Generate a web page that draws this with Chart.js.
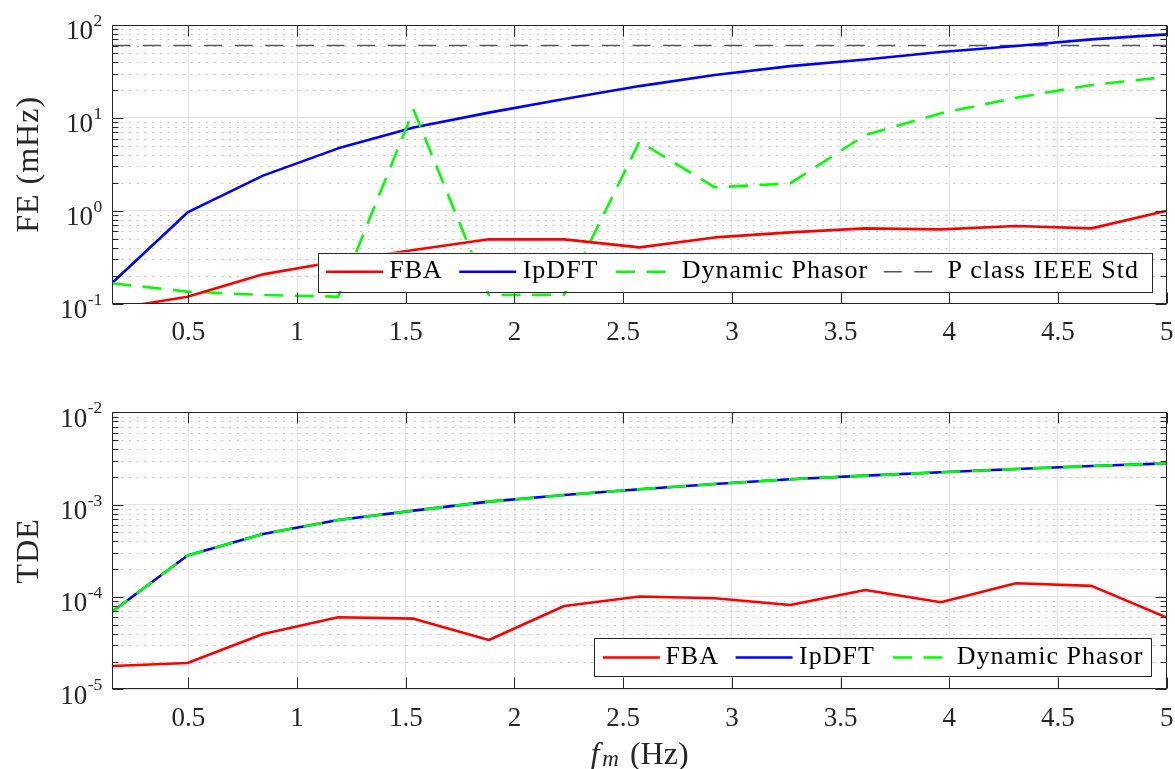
<!DOCTYPE html>
<html>
<head>
<meta charset="utf-8">
<title>FE and TDE versus modulation frequency</title>
<script src="https://cdn.jsdelivr.net/npm/chart.js@4/dist/chart.umd.min.js"></script>
<style>
  html, body { margin: 0; padding: 0; background: #ffffff; }
  #wrap { position: relative; width: 1175px; height: 769px; overflow: hidden; }
  #wrap canvas { position: absolute; left: 0; }
</style>
</head>
<body>
<div id="wrap">
  <canvas id="feChart" width="1175" height="369" style="top:0px"></canvas>
  <canvas id="tdeChart" width="1175" height="400" style="top:369px"></canvas>
</div>
<script>
// Modulation frequency f_m (Hz)
const fm = [0.15, 0.496, 0.843, 1.189, 1.536, 1.882, 2.229, 2.575, 2.921, 3.268, 3.614, 3.961, 4.307, 4.654, 5.0];

// Frequency error (mHz)
const feFBA   = [0.0875, 0.119, 0.207, 0.286, 0.378, 0.493, 0.493, 0.404, 0.517, 0.586, 0.647, 0.631, 0.686, 0.647, 1.0];
const feIpDFT = [0.168, 0.96, 2.39, 4.70, 7.9, 11.4, 16.0, 22.0, 28.9, 36.1, 42.6, 51.2, 59.4, 70.0, 79.3];
const feDP    = [0.166, 0.135, 0.124, 0.119, 12.2, 0.124, 0.125, 5.55, 1.79, 1.97, 6.55, 11.2, 16.5, 22.6, 27.7];
const pClassFE = 60; // P class limit, IEEE Std (mHz)

// Total delay error
const tdeFBA   = [1.79e-5, 1.93e-5, 3.97e-5, 6.02e-5, 5.82e-5, 3.42e-5, 7.99e-5, 1.01e-4, 9.69e-5, 8.19e-5, 1.19e-4, 8.75e-5, 1.41e-4, 1.32e-4, 5.97e-5];
const tdeIpDFT = [6.94e-5, 2.81e-4, 4.81e-4, 6.82e-4, 8.61e-4, 1.077e-3, 1.27e-3, 1.47e-3, 1.67e-3, 1.88e-3, 2.06e-3, 2.24e-3, 2.43e-3, 2.62e-3, 2.80e-3];
const tdeDP    = [6.94e-5, 2.81e-4, 4.81e-4, 6.82e-4, 8.61e-4, 1.077e-3, 1.27e-3, 1.47e-3, 1.67e-3, 1.88e-3, 2.06e-3, 2.24e-3, 2.43e-3, 2.62e-3, 2.80e-3];

// Axis ticks
const xTicks = [0.5, 1, 1.5, 2, 2.5, 3, 3.5, 4, 4.5, 5];
const feDecades = [-1, 0, 1, 2];
const tdeDecades = [-5, -4, -3, -2];

const SERIF = '"Liberation Serif", "Times New Roman", serif';
const INK = '#262626';
const GRID_MAJOR = '#e4e4e4';
const GRID_MINOR = '#c6c6c6';

function isDecade(v) {
  const l = Math.log10(v);
  return Math.abs(l - Math.round(l)) < 1e-6;
}

function lineSet(label, ys, color, extra) {
  return Object.assign({
    label: label,
    data: fm.map((x, i) => ({ x: x, y: ys[i] })),
    borderColor: color,
    backgroundColor: color,
    borderWidth: 2.6,
    pointRadius: 0,
    pointHoverRadius: 0,
    tension: 0,
    fill: false,
    borderJoinStyle: 'round',
    borderCapStyle: 'butt'
  }, extra || {});
}

// Box, inward ticks, dotted minor grid, superscript labels and an in-axes legend
function makeAxesPlugin(cfg) {
  return {
    id: 'boxedAxes',
    beforeDatasetsDraw(chart) {
      const ctx = chart.ctx, a = chart.chartArea, y = chart.scales.y;
      ctx.save();
      ctx.strokeStyle = GRID_MINOR;
      ctx.lineWidth = 1.2;
      ctx.setLineDash([2, 5.7]);
      for (let i = 0; i < cfg.decades.length - 1; i++) {
        for (let k = 2; k <= 9; k++) {
          const py = Math.round(y.getPixelForValue(k * Math.pow(10, cfg.decades[i]))) + 0.5;
          ctx.beginPath();
          ctx.moveTo(a.left + 9, py);
          ctx.lineTo(a.right, py);
          ctx.stroke();
        }
      }
      ctx.restore();
    },
    afterDatasetsDraw(chart) {
      const ctx = chart.ctx, a = chart.chartArea, x = chart.scales.x, y = chart.scales.y;
      const L = Math.round(a.left) + 0.5, R = Math.round(a.right) - 0.5;
      const T = Math.round(a.top) + 0.5, B = Math.round(a.bottom) - 0.5;
      ctx.save();
      ctx.strokeStyle = INK;
      ctx.lineWidth = 1;
      ctx.strokeRect(L, T, R - L, B - T);
      ctx.beginPath();
      cfg.xTicks.forEach(v => {
        const px = Math.round(x.getPixelForValue(v)) + 0.5;
        ctx.moveTo(px, B); ctx.lineTo(px, B - 11);
        ctx.moveTo(px, T); ctx.lineTo(px, T + 11);
      });
      cfg.decades.forEach((d, i) => {
        const py = Math.round(y.getPixelForValue(Math.pow(10, d))) + 0.5;
        ctx.moveTo(L, py); ctx.lineTo(L + 11, py);
        ctx.moveTo(R, py); ctx.lineTo(R - 11, py);
        if (i < cfg.decades.length - 1) {
          for (let k = 2; k <= 9; k++) {
            const pm = Math.round(y.getPixelForValue(k * Math.pow(10, d))) + 0.5;
            ctx.moveTo(L, pm); ctx.lineTo(L + 6, pm);
            ctx.moveTo(R, pm); ctx.lineTo(R - 6, pm);
          }
        }
      });
      ctx.stroke();
      ctx.restore();

      // legend inside the axes
      const lg = cfg.legend;
      ctx.save();
      ctx.fillStyle = '#ffffff';
      ctx.fillRect(lg.left, lg.top, lg.right - lg.left, lg.bottom - lg.top);
      ctx.strokeStyle = INK;
      ctx.lineWidth = 1;
      ctx.strokeRect(Math.round(lg.left) + 0.5, Math.round(lg.top) + 0.5,
                     Math.round(lg.right - lg.left), Math.round(lg.bottom - lg.top));
      const cy = (lg.top + lg.bottom) / 2;
      chart.data.datasets.forEach((ds, i) => {
        const it = lg.items[i];
        ctx.beginPath();
        ctx.setLineDash(ds.borderDash || []);
        ctx.strokeStyle = ds.borderColor;
        ctx.lineWidth = ds.borderWidth;
        ctx.moveTo(lg.left + it.lineX, cy);
        ctx.lineTo(lg.left + it.lineX + 57, cy);
        ctx.stroke();
        ctx.setLineDash([]);
        ctx.fillStyle = '#000000';
        ctx.font = '26px ' + SERIF;
        ctx.letterSpacing = '1px';
        ctx.textAlign = 'left';
        ctx.textBaseline = 'alphabetic';
        ctx.fillText(ds.label, lg.left + it.textX, cy + 6.4);
      });
      ctx.restore();
    },
    afterDraw(chart) {
      const ctx = chart.ctx, a = chart.chartArea, x = chart.scales.x, y = chart.scales.y;
      ctx.save();
      ctx.fillStyle = INK;
      ctx.textBaseline = 'alphabetic';

      // x tick labels
      ctx.font = '27px ' + SERIF;
      ctx.textAlign = 'center';
      cfg.xTicks.forEach(v => {
        ctx.fillText(String(v), x.getPixelForValue(v), a.bottom + 36.7);
      });

      // y tick labels as 10^n
      ctx.textAlign = 'left';
      cfg.decades.forEach(d => {
        const py = y.getPixelForValue(Math.pow(10, d));
        const exp = String(d);
        ctx.font = '17.5px ' + SERIF;
        const ew = ctx.measureText(exp).width;
        ctx.font = '27px ' + SERIF;
        const bw = ctx.measureText('10').width;
        const right = a.left - 10;
        ctx.fillText('10', right - ew - bw - 0.5, py + 14.3);
        ctx.font = '17.5px ' + SERIF;
        ctx.fillText(exp, right - ew, py + 1);
      });

      // y axis title
      ctx.save();
      ctx.translate(38, (a.top + a.bottom) / 2);
      ctx.rotate(-Math.PI / 2);
      ctx.font = '32px ' + SERIF;
      ctx.letterSpacing = '1px';
      ctx.textAlign = 'center';
      ctx.fillText(cfg.yTitle, 0, 0);
      ctx.restore();

      // x axis title: f_m (Hz)
      if (cfg.xTitle) {
        const base = a.bottom + 74.7;
        const fFont = 'italic 32px ' + SERIF, mFont = 'italic 23px ' + SERIF, hFont = '32px ' + SERIF;
        ctx.font = fFont; const fw = ctx.measureText('f').width;
        ctx.font = mFont; const mw = ctx.measureText('m').width;
        ctx.font = hFont; const hw = ctx.measureText('(Hz)').width;
        const gap = 11;
        const total = fw + 3 + mw + gap + hw;
        let cx = (a.left + a.right) / 2 - total / 2;
        ctx.font = fFont; ctx.fillText('f', cx, base);
        cx += fw + 3;
        ctx.font = mFont; ctx.fillText('m', cx, base + 2);
        cx += mw + gap;
        ctx.font = hFont; ctx.fillText('(Hz)', cx, base);
      }
      ctx.restore();
    }
  };
}

function baseOptions(yMin, yMax, padding) {
  return {
    responsive: false,
    animation: false,
    devicePixelRatio: 1,
    events: [],
    layout: { padding: padding },
    plugins: { legend: { display: false }, tooltip: { enabled: false } },
    scales: {
      x: {
        type: 'linear',
        min: fm[0],
        max: fm[fm.length - 1],
        border: { display: false },
        grid: { color: GRID_MAJOR, lineWidth: 1, drawTicks: false },
        ticks: { display: false, stepSize: 0.5, includeBounds: false }
      },
      y: {
        type: 'logarithmic',
        min: yMin,
        max: yMax,
        border: { display: false },
        grid: {
          drawTicks: false,
          lineWidth: 1,
          color: c => (c.tick && isDecade(c.tick.value)) ? GRID_MAJOR : 'rgba(0,0,0,0)'
        },
        ticks: { display: false }
      }
    }
  };
}

// Frequency error panel
new Chart(document.getElementById('feChart'), {
  type: 'line',
  data: {
    datasets: [
      lineSet('FBA', feFBA, '#ff0000', { order: 0 }),
      lineSet('IpDFT', feIpDFT, '#0000ff', { order: 2 }),
      lineSet('Dynamic Phasor', feDP, '#00ff00', { order: 1, borderDash: [19, 11.5] }),
      {
        label: 'P class IEEE Std',
        data: [{ x: fm[0], y: pClassFE }, { x: fm[fm.length - 1], y: pClassFE }],
        borderColor: '#555555',
        borderWidth: 1.5,
        borderDash: [18, 12.6],
        pointRadius: 0,
        pointHoverRadius: 0,
        fill: false,
        order: 3
      }
    ]
  },
  options: baseOptions(0.1, 100, { left: 112.3, right: 8.3, top: 25, bottom: 65.3 }),
  plugins: [makeAxesPlugin({
    decades: feDecades,
    xTicks: xTicks,
    yTitle: 'FE (mHz)',
    xTitle: false,
    legend: {
      left: 317.7, top: 252.5, right: 1151.2, bottom: 291,
      items: [
        { lineX: 8.3, textX: 71.6 },
        { lineX: 141.6, textX: 205 },
        { lineX: 298.3, textX: 364 },
        { lineX: 566, textX: 629.7 }
      ]
    }
  })]
});

// Total delay error panel
new Chart(document.getElementById('tdeChart'), {
  type: 'line',
  data: {
    datasets: [
      lineSet('FBA', tdeFBA, '#ff0000', { order: 0 }),
      lineSet('IpDFT', tdeIpDFT, '#0000ff', { order: 2 }),
      lineSet('Dynamic Phasor', tdeDP, '#00ff00', { order: 1, borderDash: [19, 11.5] })
    ]
  },
  options: baseOptions(1e-5, 1e-2, { left: 112.3, right: 8.3, top: 43.3, bottom: 79.7 }),
  plugins: [makeAxesPlugin({
    decades: tdeDecades,
    xTicks: xTicks,
    yTitle: 'TDE',
    xTitle: true,
    legend: {
      left: 594.4, top: 269.3, right: 1151.2, bottom: 307.7,
      items: [
        { lineX: 8.4, textX: 71 },
        { lineX: 141.2, textX: 204.6 },
        { lineX: 298.6, textX: 362.4 }
      ]
    }
  })]
});
</script>
</body>
</html>
